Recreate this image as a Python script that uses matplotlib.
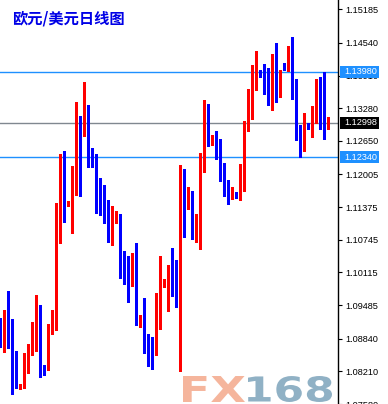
import matplotlib
matplotlib.use("Agg")
import matplotlib.pyplot as plt
import numpy as np
from matplotlib.patches import Rectangle, PathPatch
from matplotlib.textpath import TextPath
from matplotlib.font_manager import FontProperties
from matplotlib.transforms import Affine2D, IdentityTransform, blended_transform_factory

# daily EUR/USD candles, left to right
opens = [1.0918, 1.0892, 1.0911, 1.0874, 1.0858, 1.0788, 1.0796, 1.0851, 1.0861, 1.0902,
         1.0935, 1.0831, 1.0824, 1.0893, 1.0917, 1.1092, 1.1201, 1.1140, 1.1144, 1.1188,
         1.1289, 1.1284, 1.1316, 1.1234, 1.1223, 1.1176, 1.1143, 1.1121, 1.1108, 1.1108,
         1.1123, 1.1026, 1.1023, 1.1013, 1.1025, 1.0911, 1.0924, 1.0886, 1.0876, 1.0866,
         1.0945, 1.0986, 1.0991, 1.1012, 1.1001, 1.0984, 1.1177, 1.1135, 1.1167, 1.1100,
         1.1108, 1.1215, 1.1316, 1.1257, 1.1276, 1.1234, 1.1221, 1.1178, 1.1162, 1.1161,
         1.1153, 1.1199, 1.1287, 1.1332, 1.1378, 1.1402, 1.1395, 1.1386, 1.1380, 1.1400,
         1.1366, 1.1415, 1.1404, 1.1412, 1.1383, 1.1279, 1.1265, 1.1300, 1.1297, 1.1306,
         1.1361, 1.1302, 1.1289]
highs = [1.0924, 1.0939, 1.0976, 1.0922, 1.0861, 1.0797, 1.0857, 1.0874, 1.0916, 1.0968,
         1.0949, 1.0834, 1.0913, 1.0939, 1.1146, 1.1239, 1.1245, 1.1149, 1.1217, 1.1340,
         1.1313, 1.1378, 1.1335, 1.1251, 1.1239, 1.1193, 1.1180, 1.1151, 1.1140, 1.1130,
         1.1125, 1.1053, 1.1044, 1.1050, 1.1068, 1.0929, 1.0963, 1.0893, 1.0887, 1.0972,
         1.1044, 1.0998, 1.1026, 1.1059, 1.1035, 1.1218, 1.1210, 1.1177, 1.1169, 1.1125,
         1.1242, 1.1343, 1.1337, 1.1276, 1.1285, 1.1268, 1.1223, 1.1189, 1.1176, 1.1167,
         1.1220, 1.1304, 1.1366, 1.1412, 1.1439, 1.1402, 1.1414, 1.1406, 1.1433, 1.1454,
         1.1402, 1.1416, 1.1448, 1.1466, 1.1385, 1.1295, 1.1318, 1.1300, 1.1333, 1.1384,
         1.1389, 1.1398, 1.1311]
lows = [1.0868, 1.0858, 1.0866, 1.0778, 1.0788, 1.0786, 1.0788, 1.0818, 1.0852, 1.0861,
        1.0810, 1.0813, 1.0823, 1.0892, 1.0901, 1.1069, 1.1108, 1.1140, 1.1087, 1.1160,
        1.1159, 1.1274, 1.1214, 1.1214, 1.1126, 1.1123, 1.1106, 1.1071, 1.1065, 1.1107,
        1.1001, 1.0989, 1.0955, 1.0986, 1.0911, 1.0907, 1.0857, 1.0832, 1.0825, 1.0852,
        1.0903, 1.0984, 1.0938, 1.0967, 1.0945, 1.0821, 1.1080, 1.1133, 1.1076, 1.1071,
        1.1057, 1.1206, 1.1255, 1.1257, 1.1231, 1.1188, 1.1159, 1.1144, 1.1153, 1.1155,
        1.1151, 1.1169, 1.1285, 1.1308, 1.1364, 1.1388, 1.1356, 1.1335, 1.1325, 1.1341,
        1.1349, 1.1402, 1.1399, 1.1345, 1.1267, 1.1235, 1.1245, 1.1289, 1.1272, 1.1300,
        1.1289, 1.1268, 1.1289]
closes = [1.0892, 1.0911, 1.0873, 1.0858, 1.0791, 1.0797, 1.0853, 1.0863, 1.0903, 1.0935,
          1.0831, 1.0825, 1.0895, 1.0918, 1.1093, 1.1201, 1.1156, 1.1145, 1.1189, 1.1289,
          1.1284, 1.1318, 1.1247, 1.1223, 1.1175, 1.1142, 1.1119, 1.1108, 1.1132, 1.1122,
          1.1025, 1.1023, 1.1013, 1.1023, 1.0929, 1.0924, 1.0884, 1.0874, 1.0866, 1.0945,
          1.1004, 1.0991, 1.1013, 1.0999, 1.0984, 1.1177, 1.1149, 1.1166, 1.1100, 1.1109,
          1.1215, 1.1316, 1.1274, 1.1276, 1.1234, 1.1220, 1.1176, 1.1162, 1.1167, 1.1156,
          1.1201, 1.1291, 1.1333, 1.1379, 1.1393, 1.1393, 1.1385, 1.1380, 1.1400, 1.1366,
          1.1398, 1.1404, 1.1412, 1.1382, 1.1277, 1.1265, 1.1283, 1.1297, 1.1308, 1.1361,
          1.1289, 1.1289, 1.12998]

tick_vals = [1.15185, 1.14540, 1.13910, 1.13280, 1.12650, 1.12005, 1.11375,
             1.10745, 1.10115, 1.09485, 1.08840, 1.08210, 1.07580]

level_vals = [1.13980, 1.12998, 1.12340]
level_colors = ["#1e90ff", "#808890", "#1e90ff"]
level_box_colors = ["#1e90ff", "#000000", "#1e90ff"]

title = "欧元/美元日线图"

W, H = 388, 404
fig = plt.figure(figsize=(W / 100, H / 100), dpi=100)
fig.patch.set_facecolor("white")
ax = fig.add_axes([0, 0, 338 / W, 1])

o = np.array(opens)
c = np.array(closes)
hi = np.array(highs)
lo = np.array(lows)
x = np.arange(len(o))
up = c >= o
cols = np.where(up, "#ff0000", "#0000ff")

ax.vlines(x, lo, hi, colors=cols, linewidth=1.0, zorder=3, antialiased=False)
bottom = np.minimum(o, c)
height = np.maximum(np.abs(c - o), 0.00022)
ax.bar(x, height, bottom=bottom, width=0.75, color=cols, linewidth=0, zorder=4,
       antialiased=False)

ax.set_xlim(-0.083, 84.4)
ax.set_ylim(1.07609, 1.15367)

for v, lc in zip(level_vals, level_colors):
    ax.axhline(v, color=lc, linewidth=1.0, zorder=2)

ax.yaxis.tick_right()
ax.set_yticks(tick_vals)
ax.set_yticklabels(["%.5f" % v for v in tick_vals], fontsize=6.6,
                   family="Liberation Sans", color="black")
ax.tick_params(axis="y", direction="out", length=3, width=0.8, pad=2.5, color="black")
ax.set_xticks([])
for s in ["top", "left", "bottom"]:
    ax.spines[s].set_visible(False)
ax.spines["right"].set_color("black")
ax.spines["right"].set_linewidth(1.0)

# price labels on the right axis
tr = blended_transform_factory(ax.transAxes, ax.transData)
px = 0.00019205
for v, bc in zip(level_vals, level_box_colors):
    ax.add_patch(Rectangle((340 / 338, v - 5.8 * px), 39 / 338, 11.6 * px, transform=tr,
                           facecolor=bc, edgecolor="none", clip_on=False, zorder=10))
    ax.text(344.5 / 338, v, "%.5f" % v, transform=tr, fontsize=6.6, family="Liberation Sans",
            color="white", va="center", ha="left", clip_on=False, zorder=11)

fig.text(12 / W, 1 - 11 / H, title, fontsize=11, fontweight="bold", color="#0000e6",
         family=["Noto Sans CJK SC", "DejaVu Sans"], va="top", ha="left")

# FX168 watermark
wm_font = FontProperties(family="DejaVu Sans", weight="bold")
for txt, col, x0, x1 in [("FX", "#f5b59c", 183, 245), ("168", "#90b1c5", 248, 332)]:
    tp = TextPath((0, 0), txt, size=40, prop=wm_font)
    ext = tp.get_extents()
    sx = (x1 - x0) / ext.width
    sy = 26 / ext.height
    t = Affine2D().translate(-ext.x0, -ext.y0).scale(sx, sy).translate(x0, H - 402)
    fig.add_artist(PathPatch(t.transform_path(tp), facecolor=col, edgecolor="none",
                             transform=IdentityTransform()))

fig.savefig("out.png", dpi=100)
